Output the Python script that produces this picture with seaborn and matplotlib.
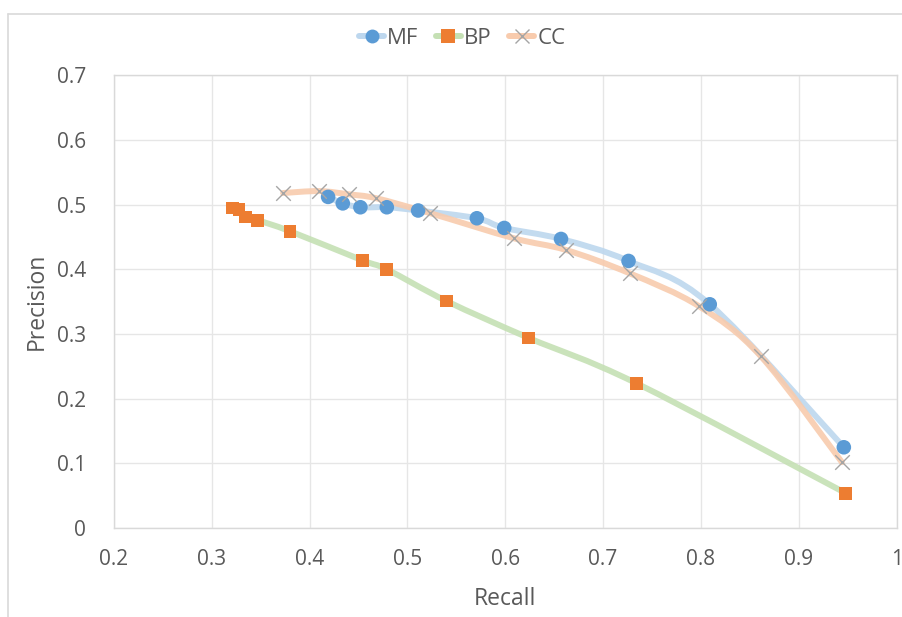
import numpy as np
import matplotlib
matplotlib.use("Agg")
import matplotlib.pyplot as plt
from matplotlib.path import Path
from matplotlib.patches import PathPatch
from matplotlib.lines import Line2D
import seaborn as sns

# ======================================================
# DATA
# ======================================================
mf_recall = [0.419, 0.434, 0.452, 0.479, 0.511, 0.571, 0.599, 0.657, 0.726, 0.809, 0.946]
mf_precision = [0.512, 0.502, 0.496, 0.496, 0.491, 0.479, 0.464, 0.447, 0.413, 0.346, 0.125]

bp_recall = [0.321, 0.328, 0.335, 0.347, 0.380, 0.454, 0.479, 0.540, 0.624, 0.734, 0.948]
bp_precision = [0.495, 0.493, 0.481, 0.476, 0.459, 0.414, 0.400, 0.351, 0.294, 0.224, 0.054]

cc_recall = [0.373, 0.410, 0.440, 0.468, 0.523, 0.609, 0.662, 0.727, 0.798, 0.861, 0.944]
cc_precision = [0.518, 0.521, 0.516, 0.510, 0.487, 0.448, 0.430, 0.394, 0.343, 0.266, 0.102]

x_ticks = [0.2, 0.3, 0.4, 0.5, 0.6, 0.7, 0.8, 0.9, 1.0]
x_labels = ["0.2", "0.3", "0.4", "0.5", "0.6", "0.7", "0.8", "0.9", "1"]
y_ticks = [0, 0.1, 0.2, 0.3, 0.4, 0.5, 0.6, 0.7]
y_labels = ["0", "0.1", "0.2", "0.3", "0.4", "0.5", "0.6", "0.7"]


def smooth_path(xs, ys):
    # Excel-style smoothed line: cubic Bezier segments through every point
    pts = np.column_stack([xs, ys])
    verts = [pts[0]]
    codes = [Path.MOVETO]
    n = len(pts)
    for i in range(n - 1):
        p0 = pts[i - 1] if i > 0 else pts[i]
        p1, p2 = pts[i], pts[i + 1]
        p3 = pts[i + 2] if i + 2 < n else pts[i + 1]
        c1 = p1 + (p2 - p0) / 6.0
        c2 = p2 - (p3 - p1) / 6.0
        verts += [c1, c2, p2]
        codes += [Path.CURVE4] * 3
    return Path(verts, codes)


# ======================================================
# PLOT
# ======================================================
sns.set_theme(style="white")
plt.rcParams["font.family"] = ["Open Sans", "DejaVu Sans"]
text_color = "#595959"

fig = plt.figure(figsize=(9.03, 6.17), dpi=100)
ax = fig.add_axes([0.126, 0.144, 0.867, 0.734])

series = [
    ("MF", mf_recall, mf_precision, "#bdd7ee", "#5b9bd5", "o", 110),
    ("BP", bp_recall, bp_precision, "#c5e0b4", "#ed7d31", "s", 85),
    ("CC", cc_recall, cc_precision, "#f8cbad", "#a5a5a5", "x", 110),
]

handles = []
for name, xs, ys, line_c, mark_c, marker, size in series:
    ax.add_patch(PathPatch(smooth_path(xs, ys), facecolor="none",
                           edgecolor=line_c, lw=4.3, alpha=0.9,
                           capstyle="round", zorder=2))
    if marker == "x":
        sns.scatterplot(x=xs, y=ys, ax=ax, marker="x", s=size, color=mark_c,
                        linewidth=1.0, zorder=3, legend=False)
    else:
        sns.scatterplot(x=xs, y=ys, ax=ax, marker=marker, s=size, color=mark_c,
                        edgecolor="none", zorder=3, legend=False)
    handles.append(Line2D([], [], color=line_c, lw=4.3, marker=marker,
                          markersize=10, markerfacecolor=mark_c,
                          markeredgecolor=mark_c,
                          markeredgewidth=1.0 if marker == "x" else 0,
                          label=name))

ax.set_xlim(0.2, 1.0)
ax.set_ylim(0, 0.7)
ax.set_xticks(x_ticks)
ax.set_xticklabels(x_labels)
ax.set_yticks(y_ticks)
ax.set_yticklabels(y_labels)
ax.grid(True, color="#e6e6e6", lw=1)
ax.set_axisbelow(True)
for sp in ax.spines.values():
    sp.set_color("#d9d9d9")
    sp.set_linewidth(1)
ax.tick_params(axis="x", length=0, labelsize=15, labelcolor=text_color, pad=15)
ax.tick_params(axis="y", length=0, labelsize=15, labelcolor=text_color, pad=20)
ax.set_xlabel("Recall", fontsize=16.5, color=text_color, labelpad=12)
ax.set_ylabel("Precision", fontsize=16.5, color=text_color, labelpad=6)

fig.legend(handles=handles, loc="center", bbox_to_anchor=(0.512, 0.938),
           ncol=3, frameon=False, fontsize=16, handlelength=1.1,
           handletextpad=0.15, columnspacing=0.8, labelcolor=text_color)

# outer chart border (only top and left edges fall inside the picture)
fig.add_artist(Line2D([0.009, 0.009], [0.0, 0.978], transform=fig.transFigure,
                      color="#d9d9d9", lw=1.2))
fig.add_artist(Line2D([0.009, 1.0], [0.978, 0.978], transform=fig.transFigure,
                      color="#d9d9d9", lw=1.2))

fig.savefig("out.png", dpi=100)
